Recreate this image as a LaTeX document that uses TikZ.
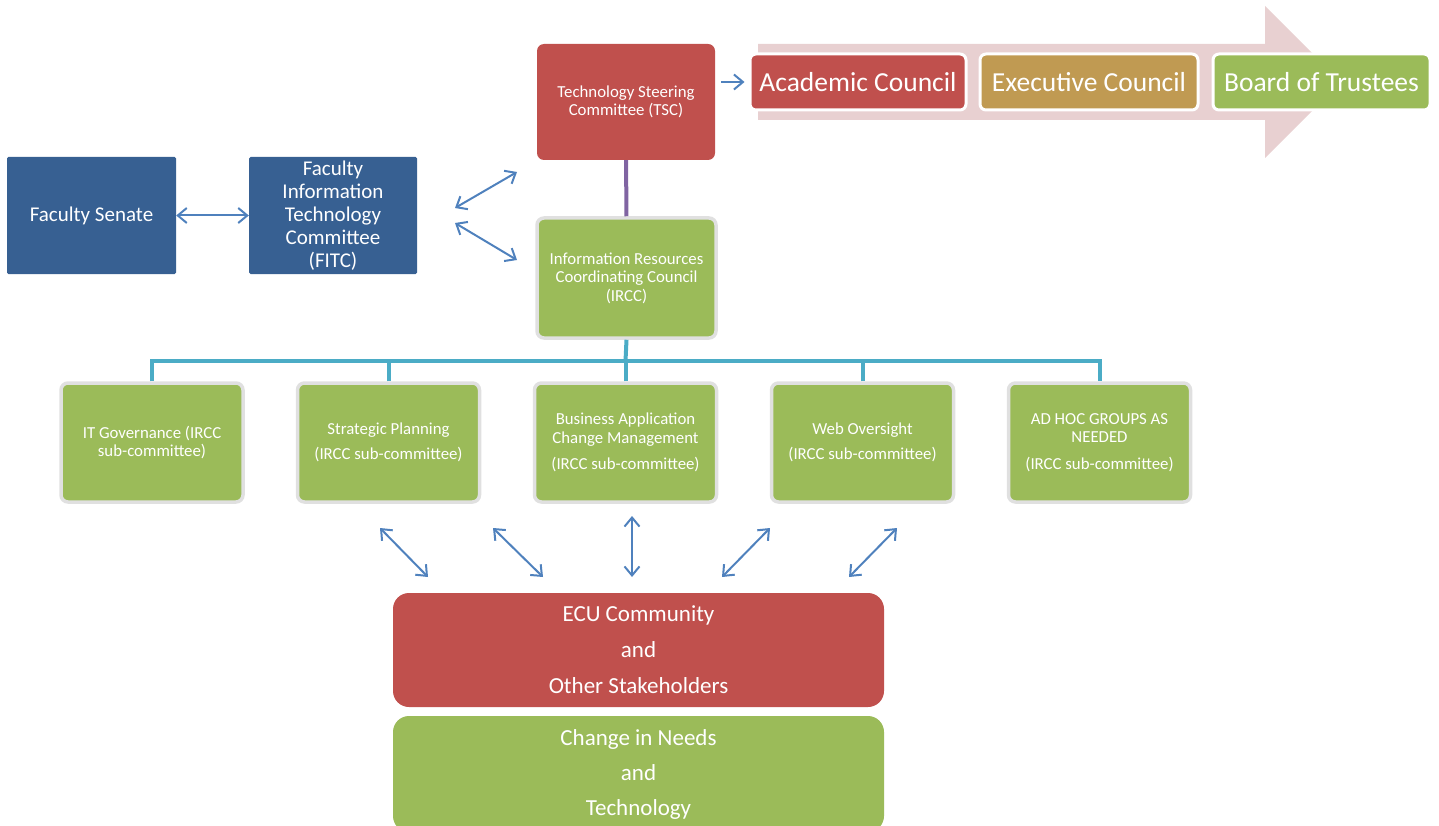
\documentclass[tikz,border=0pt]{standalone}
\usepackage{fontspec}
\setmainfont{Carlito}
\usetikzlibrary{arrows.meta}
\definecolor{ecured}{HTML}{C0504D}
\definecolor{ecutan}{HTML}{C09A52}
\definecolor{ecugreen}{HTML}{9BBB59}
\definecolor{ecublue}{HTML}{376092}
\definecolor{ecupink}{HTML}{E8D0D1}
\definecolor{ecuteal}{HTML}{4BACC6}
\definecolor{ecupurple}{HTML}{8064A2}
\definecolor{ecuarrow}{HTML}{4F81BD}
\newcommand{\fs}[2]{\fontsize{#1}{#2}\selectfont}
\tikzset{barb/.tip={Straight Barb[length=9pt,width=15pt]}}
\begin{document}
\begin{tikzpicture}[x=1pt,y=-1pt,
  box/.style={rounded corners=7pt,text=white,align=center,inner sep=0pt},
  gbox/.style={box,fill=ecugreen,draw=black!12,line width=3.5pt},
  topbox/.style={box,rounded corners=6pt,draw=white,line width=3pt,minimum height=56pt,font=\fs{27.5}{30}},
  bluebox/.style={box,rounded corners=1.5pt,fill=ecublue,minimum width=169pt,minimum height=117pt,font=\fs{21}{23}},
  subbox/.style={gbox,minimum width=182pt,minimum height=119pt,font=\fs{16.8}{18.5}},
  dbl/.style={barb-barb,ecuarrow,line width=2pt},
  tree/.style={ecuteal,line width=4pt}]
\clip (0,0) rectangle (1439,826);
% arrow behind the councils
\fill[ecupink] (758,44) -- (1265,44) -- (1265,6) -- (1341,82) -- (1265,158) -- (1265,120) -- (758,120) -- cycle;
\node[topbox,fill=ecured,minimum width=216pt] (acad) at (858,82) {Academic Council};
\node[topbox,fill=ecutan,minimum width=218pt] (exec) at (1089,82) {Executive Council};
\node[topbox,fill=ecugreen,minimum width=217pt] (board) at (1321.5,82) {Board of Trustees};

\node[box,fill=ecured,minimum width=178pt,minimum height=116pt,font=\fs{16.8}{18.5}] (tsc) at (626,102) {Technology Steering\\Committee (TSC)};
\node[gbox,minimum width=179pt,minimum height=120pt,font=\fs{16.8}{18.5}] (ircc) at (626.5,278) {Information Resources\\Coordinating Council\\(IRCC)};

\node[bluebox] (senate) at (91.5,215.5) {Faculty Senate};
\node[bluebox,minimum width=168pt] (fitc) at (333,215.5) {Faculty\\Information\\Technology\\Committee\\(FITC)};

% sub-committees
\node[subbox] (itgov) at (152,442.5) {IT Governance (IRCC\\sub-committee)};
\node[subbox] (strat) at (388.5,442.5) {Strategic Planning\\[7pt](IRCC sub-committee)};
\node[subbox] (busi) at (625.5,442.5) {Business Application\\Change Management\\[8pt](IRCC sub-committee)};
\node[subbox] (web) at (862.5,442.5) {Web Oversight\\[7pt](IRCC sub-committee)};
\node[subbox] (adhoc) at (1099.5,442.5) {AD HOC GROUPS AS\\NEEDED\\[8pt](IRCC sub-committee)};

\node[box,rounded corners=16pt,fill=ecured,minimum width=491pt,minimum height=114pt,font=\fs{23}{36}] (ecu) at (638.5,650) {ECU Community\\and\\Other Stakeholders};
\node[box,rounded corners=16pt,fill=ecugreen,minimum width=491pt,minimum height=116pt,font=\fs{23}{35}] (change) at (638.5,774) {Change in Needs\\and\\Technology};

% connectors
\draw[ecupurple,line width=4pt] (tsc) -- (ircc);
\draw[-barb,ecuarrow,line width=2pt,shorten <=6pt,shorten >=4pt] (tsc.east |- acad.west) -- (acad.west);
\draw[dbl] (senate) -- (fitc);
\coordinate (f1) at (455,208); \coordinate (f2) at (517,172);
\coordinate (f3) at (455,223); \coordinate (f4) at (517,260);
\draw[dbl] (f1) -- (f2);
\draw[dbl] (f3) -- (f4);

\draw[tree] (ircc.south) -- (625.5,361);
\draw[tree] (itgov.north) -- (152,361) -- (1099.5,361) -- (adhoc.north);
\foreach \n in {strat,busi,web} \draw[tree] (\n.north) -- (\n.north |- 0,361);

\coordinate (a1) at (380,528); \coordinate (a2) at (428,577);
\coordinate (b1) at (493,528); \coordinate (b2) at (543,577);
\coordinate (c1) at (632,516); \coordinate (c2) at (632,577);
\coordinate (d1) at (770,528); \coordinate (d2) at (722,577);
\coordinate (e1) at (897,528); \coordinate (e2) at (849,577);
\foreach \p in {a,b,c,d,e} \draw[dbl] (\p1) -- (\p2);
\end{tikzpicture}
\end{document}
